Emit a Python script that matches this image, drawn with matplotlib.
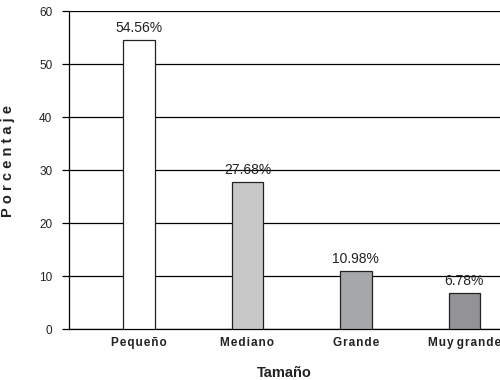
import matplotlib
matplotlib.use("Agg")
import matplotlib.pyplot as plt

categories = ["Pequeño", "Mediano", "Grande", "Muy grande"]
values = [54.56, 27.68, 10.98, 6.78]
bar_colors = ["#ffffff", "#c8c8c8", "#a6a7a9", "#939395"]
yticks = [0, 10, 20, 30, 40, 50, 60]

plt.rcParams["font.family"] = ["Liberation Sans", "DejaVu Sans"]


def spaced(s, gap="\u200a"):
    # widen the letter spacing of a label, keeping word gaps as they are
    return " ".join(gap.join(w) for w in s.split(" "))


fig = plt.figure(figsize=(5, 3.8), dpi=100)
ax = fig.add_axes([0.138, 0.134, 0.862, 0.837])

x = list(range(len(categories)))
ax.set_axisbelow(True)
ax.yaxis.grid(True, color="black", linewidth=0.9)
ax.bar(x, values, width=0.29, color=bar_colors, edgecolor="#222222", linewidth=0.9, zorder=3)

for xi, v in zip(x, values):
    ax.text(xi, v + 1.0, f"{v:.2f}%", ha="center", va="bottom", fontsize=10, color="#222222", zorder=4)

ax.set_xlim(-0.646, 3.33)
ax.set_ylim(0, 60)
ax.set_yticks(yticks)
ax.set_yticklabels([str(t) for t in yticks], fontsize=8.5, color="#222222")
ax.set_xticks(x)
ax.set_xticklabels([spaced(c) for c in categories], fontsize=8.5, fontweight="bold", color="#222222")
ax.tick_params(axis="x", length=0, pad=6)
ax.tick_params(axis="y", length=5, width=0.9, pad=7)

for side in ["top", "right"]:
    ax.spines[side].set_visible(False)
ax.spines["left"].set_linewidth(0.9)
ax.spines["bottom"].set_linewidth(0.9)

ax.set_xlabel("Tamaño", fontsize=10.5, fontweight="bold", labelpad=12, color="#222222")
ax.set_ylabel(spaced("Porcentaje", "\u2009\u200a"), fontsize=10.5, fontweight="bold", color="#222222")
ax.yaxis.set_label_coords(-0.125, 0.53)

fig.savefig("out.png", dpi=100)
